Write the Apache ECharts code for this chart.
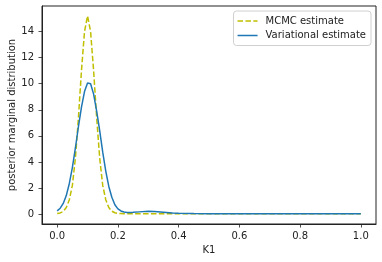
<!DOCTYPE html>
<html>
<head>
<meta charset="utf-8">
<script src="https://cdn.jsdelivr.net/npm/echarts@6/dist/echarts.min.js"></script>
<style>
html,body{margin:0;padding:0;background:#fff;}
#chart{width:382px;height:262px;}
</style>
</head>
<body>
<div id="chart"></div>
<script>
const xs = [0.00,0.01,0.02,0.03,0.04,0.05,0.06,0.07,0.08,0.09,0.10,0.11,0.12,0.13,0.14,0.15,0.16,0.17,0.18,0.19,0.20,0.21,0.22,0.23,0.24,0.25,0.27,0.30,0.32,0.35,0.38,0.40,0.45,0.50,0.60,0.70,0.80,0.90,1.00];
const mcmc = [0.05,0.09,0.2,0.5,1.1,2.2,4.3,7.4,11.0,14.0,15.2,14.0,11.0,7.4,4.3,2.2,1.1,0.5,0.22,0.1,0.05,0.04,0.03,0.03,0.02,0.02,0.02,0.02,0.02,0.02,0.02,0.02,0.02,0.02,0.02,0.02,0.02,0.02,0.02];
const variational = [0.25,0.45,0.82,1.42,2.35,3.57,5.07,6.7,8.2,9.4,10.05,10.0,9.2,7.9,6.4,4.75,3.3,2.12,1.29,0.72,0.4,0.24,0.16,0.13,0.13,0.14,0.17,0.21,0.2,0.15,0.09,0.06,0.04,0.03,0.03,0.03,0.03,0.03,0.03];
const xTicks = [0,0.2,0.4,0.6,0.8,1.0];
const yTicks = [0,2,4,6,8,10,12,14];
const seriesNames = ['MCMC estimate','Variational estimate'];

const font = 'DejaVu Sans';
const chart = echarts.init(document.getElementById('chart'), null, {renderer:'canvas'});
const pair = arr => xs.map((x,i)=>[x,arr[i]]);
const dashIcon = 'path://M0,0h5.5v1.5h-5.5zM7.9,0h5.5v1.5h-5.5zM15.8,0h4.2v1.5h-4.2z';
const solidIcon = 'path://M0,0h20v1.5h-20z';
chart.setOption({
  animation:false,
  backgroundColor:'#fff',
  grid:{left:42,right:6,top:6,bottom:38,containLabel:false,outerBoundsMode:'none',show:true,borderColor:'#222',borderWidth:1,backgroundColor:'transparent'},
  legend:{
    orient:'vertical',right:11,top:11,
    itemWidth:20,itemHeight:1.5,itemGap:2.5,
    padding:[4,5,4,4],
    backgroundColor:'rgba(255,255,255,0.8)',
    borderColor:'#d0d0d0',borderWidth:1,borderRadius:3,
    textStyle:{fontFamily:font,fontSize:10,color:'#222',padding:[0,0,0,3],lineHeight:12},
    data:[{name:seriesNames[0],icon:dashIcon},{name:seriesNames[1],icon:solidIcon}]
  },
  xAxis:{
    type:'value',min:-0.05,max:1.05,
    name:'K1',nameLocation:'middle',nameGap:21,nameMoveOverlap:false,
    nameTextStyle:{fontFamily:font,fontSize:10,color:'#222'},
    axisLine:{show:true,onZero:false,lineStyle:{color:'#222',width:1}},
    splitLine:{show:false},
    axisTick:{show:true,inside:false,length:3.5,customValues:xTicks,lineStyle:{color:'#222',width:0.8}},
    axisLabel:{customValues:xTicks,margin:7,fontFamily:font,fontSize:10,color:'#222',formatter:v=>v.toFixed(1)}
  },
  yAxis:{
    type:'value',min:-0.76,max:15.96,
    name:'posterior marginal distribution',nameLocation:'middle',nameGap:25,nameMoveOverlap:false,
    nameTextStyle:{fontFamily:font,fontSize:10,color:'#222'},
    axisLine:{show:true,onZero:false,lineStyle:{color:'#222',width:1}},
    splitLine:{show:false},
    axisTick:{show:true,inside:false,length:3.5,customValues:yTicks,lineStyle:{color:'#222',width:0.8}},
    axisLabel:{customValues:yTicks,margin:8,fontFamily:font,fontSize:10,color:'#222'}
  },
  series:[
    {name:seriesNames[0],type:'line',data:pair(mcmc),symbol:'none',showSymbol:false,
     lineStyle:{color:'#bfbf00',width:1.5,type:[5.5,2.4]},itemStyle:{color:'#bfbf00'},z:2},
    {name:seriesNames[1],type:'line',data:pair(variational),symbol:'none',showSymbol:false,
     lineStyle:{color:'#1f77b4',width:1.5},itemStyle:{color:'#1f77b4'},z:3}
  ]
});
</script>
</body>
</html>
